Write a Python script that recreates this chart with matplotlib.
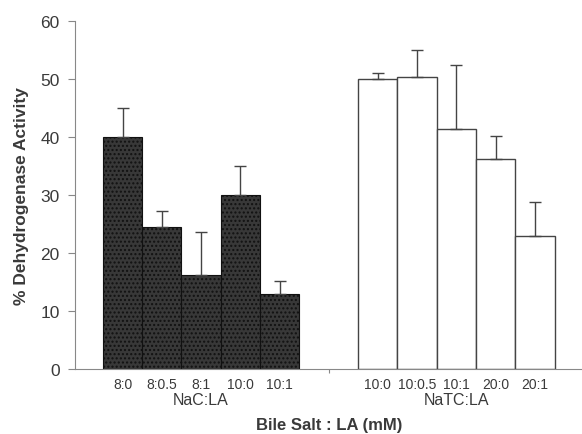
import numpy as np
import matplotlib
matplotlib.use("Agg")
import matplotlib.pyplot as plt

plt.rcParams['font.family'] = ['Liberation Sans', 'DejaVu Sans']
plt.rcParams['hatch.color'] = '#555555'

# --- Data ---
nac_labels = ["8:0", "8:0.5", "8:1", "10:0", "10:1"]
nac_values = [40.0, 24.5, 16.3, 30.0, 13.0]
nac_err = [5.0, 2.8, 7.3, 5.0, 2.2]

natc_labels = ["10:0", "10:0.5", "10:1", "20:0", "20:1"]
natc_values = [50.0, 50.4, 41.4, 36.2, 22.9]
natc_err = [1.1, 4.6, 11.0, 4.0, 5.9]

group_names = ["NaC:LA", "NaTC:LA"]

TEXT = '#3a3a3a'

fig = plt.figure(figsize=(5.82, 4.35), dpi=100)
ax = fig.add_axes([0.129, 0.149, 0.871, 0.800])

x_nac = np.arange(len(nac_values))
x_natc = np.arange(len(natc_values)) + 6.5

ax.bar(x_nac, nac_values, width=1.0, color='#383838', edgecolor='#111111', linewidth=0.8,
       hatch='....', zorder=2)
ax.bar(x_natc, natc_values, width=1.0, color='white', edgecolor='#444444', linewidth=1.0, zorder=2)

for xs, vals, errs in [(x_nac, nac_values, nac_err), (x_natc, natc_values, natc_err)]:
    ax.errorbar(xs, vals, yerr=[np.zeros(len(errs)), errs], fmt='none', ecolor='#444444',
                elinewidth=1.0, capsize=4, capthick=1.0, zorder=3)

ax.set_xlim(-1.21, 11.7)
ax.set_ylim(0, 60)
ax.set_yticks(range(0, 61, 10))
ax.tick_params(axis='y', direction='out', length=5, color='#888888', labelsize=12.5,
               labelcolor=TEXT, pad=6)
ax.set_xticks([5.25])
ax.set_xticklabels([''])
ax.tick_params(axis='x', direction='out', length=3, color='#888888')

for s in ['top', 'right']:
    ax.spines[s].set_visible(False)
ax.spines['left'].set_color('#888888')
ax.spines['bottom'].set_color('#888888')

# category labels under bars
for xs, labels in [(x_nac, nac_labels), (x_natc, natc_labels)]:
    for x, lab in zip(xs, labels):
        ax.text(x, -1.3, lab, ha='center', va='top', fontsize=10, color=TEXT)

ax.text(x_nac.mean(), -3.9, group_names[0], ha='center', va='top', fontsize=11.5, color=TEXT)
ax.text(x_natc.mean(), -3.9, group_names[1], ha='center', va='top', fontsize=11.5, color=TEXT)

ax.text(5.25, -8.2, "Bile Salt : LA (mM)", ha='center', va='top', fontsize=12,
        fontweight='bold', color=TEXT)
ax.set_ylabel("% Dehydrogenase Activity", fontsize=12.5, fontweight='bold', color=TEXT, labelpad=8)

fig.savefig("out.png", dpi=100)
